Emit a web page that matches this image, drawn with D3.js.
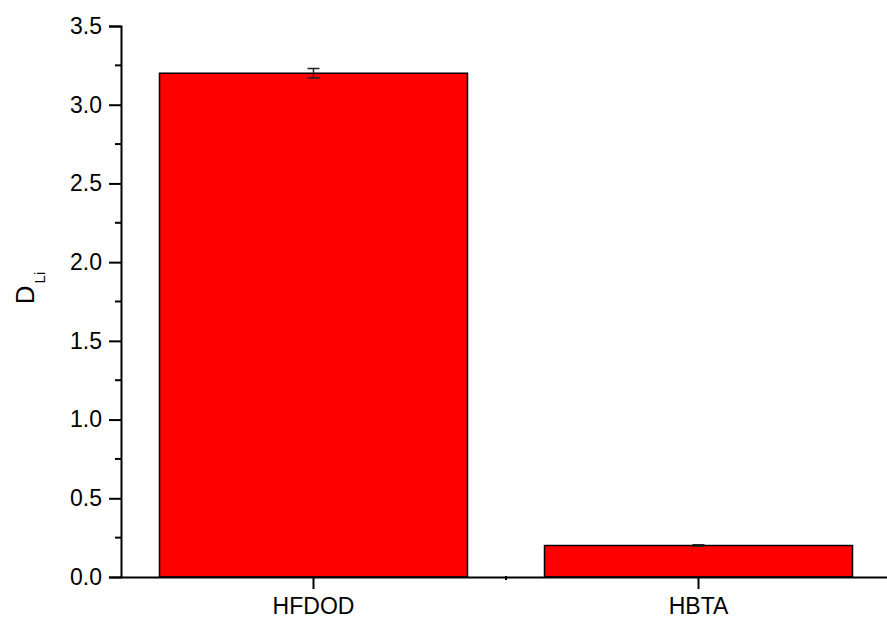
<!DOCTYPE html>
<html>
<head>
<meta charset="utf-8">
<script src="https://cdn.jsdelivr.net/npm/d3@7"></script>
<style>
  body { margin: 0; background: #fff; }
  text { font-family: "Liberation Sans", Arial, sans-serif; }
</style>
</head>
<body>
<div id="vis-holder"></div>
<script>
// Data
const categories = ["HFDOD", "HBTA"];
const values = [3.2, 0.2];
const errors = [0.03, 0.005];
const yTicks = [0.0, 0.5, 1.0, 1.5, 2.0, 2.5, 3.0, 3.5];

// Set dimensions
const width = 887;
const height = 619;
const margin = { top: 26, right: -4, bottom: 42, left: 121 };

const svg = d3.select("#vis-holder")
              .append("svg")
              .attr("width", width)
              .attr("height", height);

// Scales
const x = d3.scaleBand()
            .domain(categories)
            .range([margin.left, width - margin.right])
            .paddingInner(0.2)
            .paddingOuter(0.1);

const y = d3.scaleLinear()
            .domain([0, 3.5])
            .range([height - margin.bottom, margin.top]);

// Bars
svg.selectAll("rect.bar")
   .data(values)
   .enter()
   .append("rect")
   .attr("class", "bar")
   .attr("x", (d, i) => x(categories[i]))
   .attr("y", (d) => y(d))
   .attr("width", x.bandwidth())
   .attr("height", (d) => y(0) - y(d))
   .attr("fill", "#ff0000")
   .attr("stroke", "#000")
   .attr("stroke-width", 1.5);

// Error bars
const eb = svg.append("g")
              .attr("stroke", "#222")
              .attr("stroke-width", 1.5);
values.forEach((v, i) => {
  const cx = x(categories[i]) + x.bandwidth() / 2;
  eb.append("line")
    .attr("x1", cx).attr("x2", cx)
    .attr("y1", y(v + errors[i])).attr("y2", y(v - errors[i]));
  [v + errors[i], v - errors[i]].forEach((e) => {
    eb.append("line")
      .attr("x1", cx - 6).attr("x2", cx + 6)
      .attr("y1", y(e)).attr("y2", y(e));
  });
});

// Y axis
const yAxis = svg.append("g")
   .attr("transform", `translate(${margin.left},0)`)
   .call(d3.axisLeft(y)
           .tickValues(yTicks)
           .tickFormat(d3.format(".1f"))
           .tickSize(12)
           .tickPadding(7));
yAxis.selectAll("text")
     .attr("font-size", "23px")
     .attr("fill", "#000")
     .attr("font-family", "Liberation Sans, Arial, sans-serif");

// minor y ticks
svg.append("g")
   .selectAll("line")
   .data(yTicks.slice(0, -1).map((t) => t + 0.25))
   .enter()
   .append("line")
   .attr("x1", margin.left - 6)
   .attr("x2", margin.left)
   .attr("y1", (d) => y(d))
   .attr("y2", (d) => y(d))
   .attr("stroke", "#000")
   .attr("stroke-width", 2);

// X axis
const xAxis = svg.append("g")
   .attr("transform", `translate(0,${y(0)})`)
   .call(d3.axisBottom(x)
           .tickSize(12)
           .tickPadding(9)
           .tickSizeOuter(0));
xAxis.selectAll("text")
     .attr("font-size", "23px")
     .attr("fill", "#000")
     .attr("font-family", "Liberation Sans, Arial, sans-serif");

// minor x tick between categories
const mid = (x(categories[0]) + x(categories[1]) + x.bandwidth()) / 2;
svg.append("line")
   .attr("x1", mid).attr("x2", mid)
   .attr("y1", y(0) - 1).attr("y2", y(0) + 3)
   .attr("stroke", "#000")
   .attr("stroke-width", 2);

svg.selectAll(".domain").attr("stroke-width", 2).attr("stroke", "#000");
svg.selectAll(".tick line").attr("stroke-width", 2).attr("stroke", "#000");

// Y label D_Li
const yl = svg.append("text")
   .attr("transform", `translate(34,288) rotate(-90)`)
   .attr("text-anchor", "middle")
   .attr("font-size", "26px")
   .attr("fill", "#000");
yl.append("tspan").text("D");
yl.append("tspan")
  .attr("font-size", "15px")
  .attr("dx", 2)
  .attr("dy", 11)
  .text("Li");
</script>
</body>
</html>
